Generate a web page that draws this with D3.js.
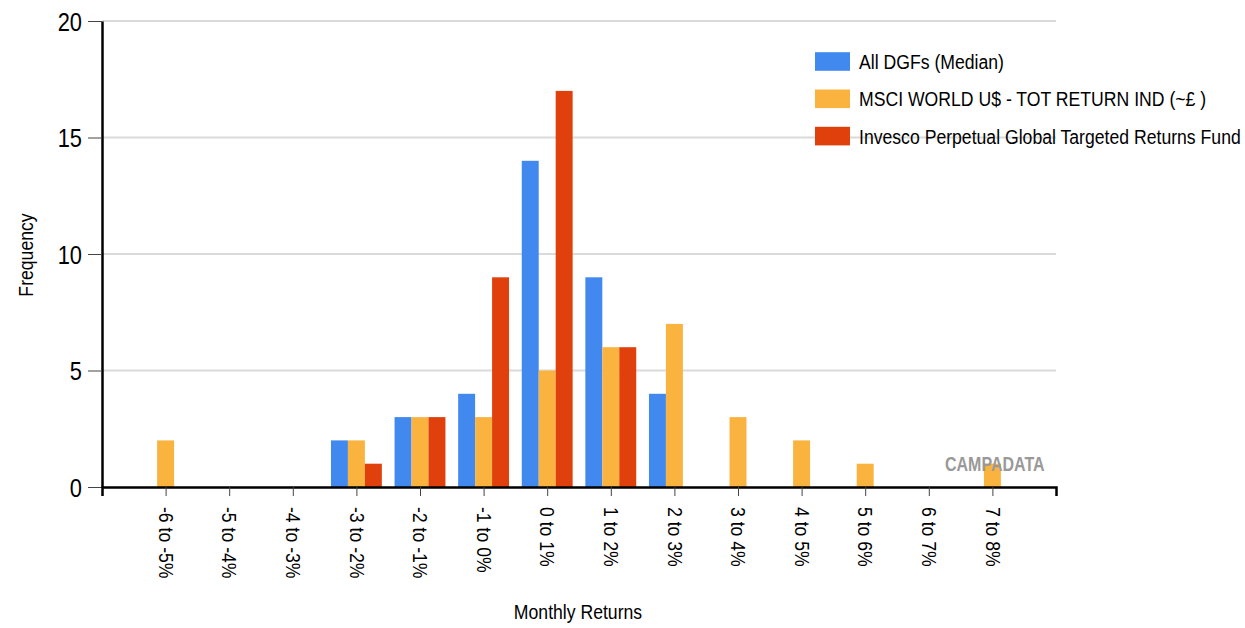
<!DOCTYPE html>
<html>
<head>
<meta charset="utf-8">
<script src="https://cdn.jsdelivr.net/npm/d3@7"></script>
<style>
  body { margin: 0; background: #fff; }
  svg { display: block; font-family: "Liberation Sans", Arial, sans-serif; }
</style>
</head>
<body>
<svg id="chart"></svg>
<script>
// monthly return buckets
const categories = ['-6 to -5%', '-5 to -4%', '-4 to -3%', '-3 to -2%', '-2 to -1%', '-1 to 0%', '0 to 1%',
  '1 to 2%', '2 to 3%', '3 to 4%', '4 to 5%', '5 to 6%', '6 to 7%', '7 to 8%'];
const seriesNames = ['All DGFs (Median)', 'MSCI WORLD U$ - TOT RETURN IND (~£ )',
  'Invesco Perpetual Global Targeted Returns Fund'];
const dgfMedian = [0, 0, 0, 2, 3, 4, 14, 9, 4, 0, 0, 0, 0, 0];
const msciWorld = [2, 0, 0, 2, 3, 3, 5, 6, 7, 3, 2, 1, 0, 1];
const invescoGtr = [0, 0, 0, 1, 3, 9, 17, 6, 0, 0, 0, 0, 0, 0];
const yTicks = [0, 5, 10, 15, 20];
const colors = ['#4189ef', '#fbb340', '#e0400c'];

const width = 1245, height = 628;
const margin = { top: 21, right: 189, bottom: 141, left: 102 };
const SX = 0.84; // the source font is a narrow face

const svg = d3.select('#chart').attr('width', width).attr('height', height);
const g = svg.append('g').attr('transform', `translate(${margin.left},${margin.top})`);
const chartWidth = width - margin.left - margin.right;
const chartHeight = height - margin.top - margin.bottom;

const x = d3.scalePoint().domain(categories).range([0, chartWidth]).padding(1);
const inner = d3.scaleBand().domain(seriesNames)
  .range([-x.step() * 0.4, x.step() * 0.4]);
const y = d3.scaleLinear().domain([0, 20]).range([chartHeight, 0]);

// gridlines
g.selectAll('.grid')
  .data(yTicks.filter(d => d > 0))
  .enter()
  .append('line')
  .attr('x1', 0).attr('x2', chartWidth)
  .attr('y1', d => y(d)).attr('y2', d => y(d))
  .attr('stroke', '#dadada')
  .attr('stroke-width', 2);

// watermark sits under the bars
svg.append('text')
  .attr('transform', `translate(945,471) scale(0.8,1)`)
  .attr('font-size', 20)
  .attr('font-weight', 'bold')
  .attr('fill', '#999')
  .text('CAMPADATA');

// bars
const rows = [];
[dgfMedian, msciWorld, invescoGtr].forEach((vals, s) => {
  vals.forEach((v, i) => {
    if (v > 0) rows.push({ cat: categories[i], series: seriesNames[s], value: v, color: colors[s] });
  });
});

g.selectAll('.bar')
  .data(rows)
  .enter()
  .append('rect')
  .attr('class', 'bar')
  .attr('x', d => x(d.cat) + inner(d.series))
  .attr('y', d => y(d.value))
  .attr('width', inner.bandwidth())
  .attr('height', d => chartHeight - y(d.value))
  .attr('fill', d => d.color);

// y axis
const yAxis = g.append('g')
  .call(d3.axisLeft(y).tickValues(yTicks).tickSize(14).tickSizeOuter(0));
yAxis.select('.domain').attr('stroke', '#000').attr('stroke-width', 2.5);
yAxis.selectAll('.tick line').attr('stroke', '#444');
yAxis.selectAll('.tick text')
  .attr('x', -20 / SX)
  .attr('dy', '0.36em')
  .attr('transform', `scale(${SX},1)`)
  .attr('font-size', 26)
  .attr('fill', '#000');

// x axis
const xAxis = g.append('g')
  .attr('transform', `translate(0,${chartHeight})`)
  .call(d3.axisBottom(x).tickSize(9).tickSizeOuter(9));
xAxis.select('.domain').attr('stroke', '#000').attr('stroke-width', 2.5);
xAxis.selectAll('.tick line').attr('stroke', '#444');
xAxis.selectAll('.tick text')
  .attr('x', 0).attr('y', 0)
  .attr('dy', '0.35em')
  .attr('transform', `translate(0,20) rotate(90) scale(${SX},1)`)
  .style('text-anchor', 'start')
  .attr('font-size', 21)
  .attr('fill', '#000');

// axis titles
svg.append('text')
  .attr('transform', `translate(33,255) rotate(-90) scale(${SX},1)`)
  .attr('text-anchor', 'middle')
  .attr('font-size', 21)
  .attr('fill', '#000')
  .text('Frequency');

svg.append('text')
  .attr('transform', `translate(578,619) scale(${SX},1)`)
  .attr('text-anchor', 'middle')
  .attr('font-size', 21)
  .attr('fill', '#000')
  .text('Monthly Returns');

// legend
const legend = svg.append('g').attr('transform', 'translate(815,61.5)');
const item = legend.selectAll('.legend-item')
  .data(seriesNames)
  .enter()
  .append('g')
  .attr('class', 'legend-item')
  .attr('transform', (d, i) => `translate(0,${i * 37.3})`);

item.append('rect')
  .attr('x', 0).attr('y', -9.3)
  .attr('width', 35).attr('height', 18.6)
  .attr('fill', (d, i) => colors[i]);

item.append('text')
  .attr('transform', `translate(44,0) scale(${SX},1)`)
  .attr('dy', '0.36em')
  .attr('font-size', 21)
  .attr('fill', '#000')
  .text(d => d);
</script>
</body>
</html>
